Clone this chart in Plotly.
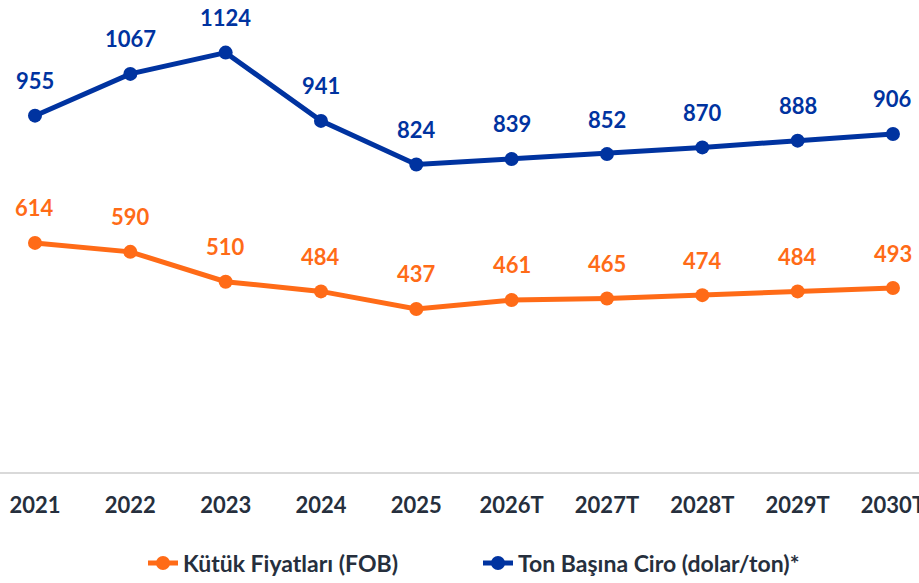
import plotly.graph_objects as go

categories = ["2021", "2022", "2023", "2024", "2025", "2026T", "2027T", "2028T", "2029T", "2030T"]
kutuk_fiyat = [614, 590, 510, 484, 437, 461, 465, 474, 484, 493]
ton_basina_ciro = [955, 1067, 1124, 941, 824, 839, 852, 870, 888, 906]

ORANGE = "#FF6B17"
BLUE = "#0033A0"
TEXT = "#262F3D"
FONT = "Lato"

fig = go.Figure()
fig.add_trace(go.Scatter(
    x=categories, y=kutuk_fiyat, name="Kütük Fiyatları (FOB)",
    mode="lines+markers", line=dict(color=ORANGE, width=5),
    marker=dict(size=14, color=ORANGE),
))
fig.add_trace(go.Scatter(
    x=categories, y=ton_basina_ciro, name="Ton Başına Ciro (dolar/ton)*",
    mode="lines+markers", line=dict(color=BLUE, width=5),
    marker=dict(size=14, color=BLUE),
))

annotations = []
for series, color in ((kutuk_fiyat, ORANGE), (ton_basina_ciro, BLUE)):
    for i, v in enumerate(series):
        annotations.append(dict(
            x=i, y=v, xref="x", yref="y", text=str(v), showarrow=False, yshift=35,
            font=dict(family=FONT, size=22, color=color, weight="bold"),
        ))

fig.update_layout(
    width=919, height=583,
    margin=dict(l=0, r=0, t=0, b=111, autoexpand=False),
    plot_bgcolor="white", paper_bgcolor="white",
    showlegend=True,
    legend=dict(orientation="h", x=143 / 919, xanchor="left", y=-0.193, yanchor="middle",
                font=dict(family=FONT, size=23, color=TEXT, weight="bold"),
                entrywidth=290, entrywidthmode="pixels", tracegroupgap=0),
    annotations=annotations,
    font=dict(family=FONT),
)
fig.update_xaxes(
    type="category", range=[-0.367, 9.273], automargin=False,
    showgrid=False, showline=True, linecolor="#D9D9D9", linewidth=2,
    ticks="", ticklabelstandoff=13,
    tickfont=dict(family=FONT, size=22, color=TEXT, weight="bold"),
    zeroline=False,
)
fig.update_yaxes(
    range=[0, 1265], showgrid=False, showticklabels=False, zeroline=False, showline=False,
    automargin=False,
)

fig.write_html("out.html", config={"displayModeBar": False},
               post_script="document.body.style.margin='0';")
